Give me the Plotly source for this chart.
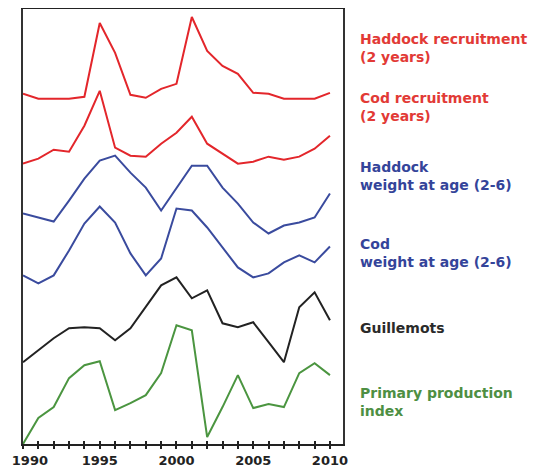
import plotly.graph_objects as go

years = list(range(1990, 2011))
tick_years = [1995, 2000, 2005, 2010]
tick_labels = ["1995", "2000", "2005", "2010"]
first_label = "1990"

# values as shown on the stacked display (no y scale in the original)
haddock_recruitment = [351, 346, 346, 346, 348, 422, 392, 350, 347, 356, 361,
                       428, 394, 379, 371, 352, 351, 346, 346, 346, 352]
cod_recruitment = [281, 286, 295, 293, 319, 354, 297, 289, 288, 301, 312,
                   328, 301, 291, 281, 283, 288, 285, 288, 296, 309]
haddock_weight = [231, 227, 223, 244, 266, 284, 289, 272, 257, 234, 257,
                  279, 279, 257, 241, 222, 211, 219, 222, 227, 251]
cod_weight = [169, 161, 169, 194, 221, 238, 222, 191, 169, 186, 236,
              234, 217, 197, 177, 167, 171, 182, 189, 182, 198]
guillemots = [82, 94, 106, 116, 117, 116, 104, 116, 137, 159, 167,
              146, 154, 121, 117, 122, 102, 82, 137, 152, 124]
primary_production = [0, 26, 37, 66, 79, 83, 34, 41, 49, 71, 119,
                      114, 7, 37, 69, 36, 40, 37, 71, 81, 69]

series = [
    ("Haddock recruitment<br>(2 years)", haddock_recruitment, "#e3262b", 38, 57),
    ("Cod recruitment<br>(2 years)", cod_recruitment, "#e3262b", 97, 116),
    ("Haddock<br>weight at age (2-6)", haddock_weight, "#3a4b9e", 167, 186),
    ("Cod<br>weight at age (2-6)", cod_weight, "#3a4b9e", 243, 263),
    ("Guillemots", guillemots, "#222222", 328, 328),
    ("Primary production<br>index", primary_production, "#4b9540", 392, 411),
]
label_colors = ["#e23a36", "#e23a36", "#34449a", "#34449a", "#2a2a2a", "#4e8f43"]

fig = go.Figure()
for (name, vals, col, _, _), lc in zip(series, label_colors):
    fig.add_trace(go.Scatter(x=years, y=vals, mode="lines", name=name,
                             line=dict(color=col, width=2), showlegend=False))

# page has an 8px body margin, so the figure is shifted by 8px
for (name, vals, col, y1, y2), lc in zip(series, label_colors):
    ymid = (y1 + y2) / 2
    fig.add_annotation(text="<b>" + name + "</b>", xref="paper", yref="paper",
                       x=(358 - 23) / 320, y=1 - (ymid - 9) / 435,
                       xanchor="left", yanchor="middle", align="left",
                       showarrow=False,
                       font=dict(family="DejaVu Sans", size=14, color=lc))

tickfont = dict(family="DejaVu Sans", size=13, color="#222")
xr = [1990, 2010.85]
fig.update_layout(
    width=530, height=468,
    margin=dict(l=15, r=195, t=1, b=32, autoexpand=False),
    plot_bgcolor="white", paper_bgcolor="white",
    xaxis=dict(range=xr, tickvals=tick_years,
               ticktext=["<b>" + t + "</b>" for t in tick_labels],
               showgrid=False, zeroline=False, showline=True, mirror=True,
               linecolor="#222", linewidth=2, ticks="outside", ticklen=3,
               tickcolor="#222", tickwidth=1.5, automargin=False,
               minor=dict(dtick=1, ticks="outside", ticklen=3, tickcolor="#222"),
               tickfont=tickfont),
    yaxis=dict(range=[0, 436], showticklabels=False, showgrid=False,
               zeroline=False, showline=True, mirror=True, automargin=False,
               linecolor="#333", linewidth=2, ticks=""),
    xaxis2=dict(range=xr, overlaying="x", side="bottom",
                showticklabels=False, showgrid=False, zeroline=False,
                tickvals=years, ticks="inside", ticklen=3, tickcolor="#222",
                tickwidth=1.5, anchor="y", automargin=False),
    # first year label sits a little right of its tick, as in the original
    xaxis3=dict(range=xr, overlaying="x", side="bottom", anchor="y",
                tickvals=[1990.45], ticktext=["<b>" + first_label + "</b>"],
                ticks="outside", ticklen=3, tickwidth=1.5,
                tickcolor="rgba(0,0,0,0)", showline=True, linewidth=2,
                linecolor="rgba(0,0,0,0)", showgrid=False, zeroline=False,
                automargin=False, tickfont=tickfont),
)
fig.add_trace(go.Scatter(x=[], y=[], xaxis="x2", showlegend=False))
fig.add_trace(go.Scatter(x=[], y=[], xaxis="x3", showlegend=False))

fig.write_html("out.html")
